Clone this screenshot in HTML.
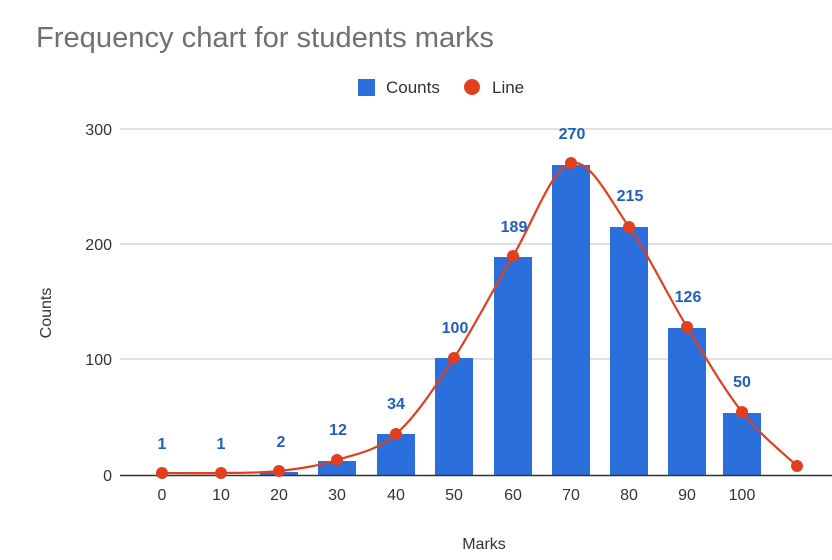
<!DOCTYPE html>
<html><head><meta charset="utf-8"><style>
html,body{margin:0;padding:0;background:#fff;}
svg{display:block;font-family:"Liberation Sans",Arial,sans-serif;}
</style></head><body>
<svg width="832" height="560" viewBox="0 0 832 560" xmlns="http://www.w3.org/2000/svg">
<text x="36" y="47" font-size="29" fill="#707070" textLength="458" lengthAdjust="spacingAndGlyphs">Frequency chart for students marks</text>
<rect x="358" y="79" width="17" height="17" fill="#2a6fdb"/>
<text x="386" y="93" font-size="17" fill="#333">Counts</text>
<circle cx="472" cy="87" r="8" fill="#e0401f"/>
<text x="492" y="93" font-size="17" fill="#333">Line</text>
<g stroke="#cfcfcf" stroke-width="1.2">
<line x1="120" y1="129" x2="832" y2="129"/>
<line x1="120" y1="244" x2="832" y2="244"/>
<line x1="120" y1="359" x2="832" y2="359"/>
</g>
<g font-size="16" fill="#333" text-anchor="end">
<text x="112" y="135">300</text>
<text x="112" y="250">200</text>
<text x="112" y="365">100</text>
<text x="112" y="481">0</text>
</g>
<text x="51" y="313" font-size="16" fill="#333" text-anchor="middle" transform="rotate(-90 51 313)">Counts</text>
<g fill="#2a6fdb">
<rect x="318" y="461" width="38" height="14"/>
<rect x="377" y="434" width="38" height="41"/>
<rect x="435" y="358" width="38" height="117"/>
<rect x="494" y="257" width="38" height="218"/>
<rect x="552" y="165" width="38" height="310"/>
<rect x="610" y="227" width="38" height="248"/>
<rect x="668" y="328" width="38" height="147"/>
<rect x="723" y="413" width="38" height="62"/>
<rect x="260" y="472" width="38" height="3"/>
</g>
<line x1="120" y1="475.5" x2="832" y2="475.5" stroke="#333" stroke-width="1.5"/>
<path d="M162,473 C172,473 201.5,473.3 221,473 C240.5,472.7 259.7,473.2 279,471 C298.3,468.8 317.5,466.2 337,460 C356.5,453.8 376.5,451 396,434 C415.5,417 434.5,387.7 454,358 C473.5,328.3 493.5,288.5 513,256 C532.5,223.5 551.7,167.8 571,163 C590.3,158.2 609.7,199.7 629,227 C648.3,254.3 668.2,296.2 687,327 C705.8,357.8 723.7,388.8 742,412 C760.3,435.2 787.8,457 797,466" fill="none" stroke="#e0401f" stroke-width="2.2"/>
<g fill="#e0401f">
<circle cx="162" cy="473" r="6"/><circle cx="221" cy="473" r="6"/><circle cx="279" cy="471" r="6"/>
<circle cx="337" cy="460" r="6"/><circle cx="396" cy="434" r="6"/><circle cx="454" cy="358" r="6"/>
<circle cx="513" cy="256" r="6"/><circle cx="571" cy="163" r="6"/><circle cx="629" cy="227" r="6"/>
<circle cx="687" cy="327" r="6"/><circle cx="742" cy="412" r="6"/><circle cx="797" cy="466" r="6"/>
</g>
<g font-size="16" font-weight="bold" fill="#1f5fc4" text-anchor="middle">
<text x="162" y="449">1</text><text x="221" y="449">1</text><text x="281" y="447">2</text>
<text x="338" y="435">12</text><text x="396" y="409">34</text><text x="455" y="333">100</text>
<text x="514" y="232">189</text><text x="572" y="139">270</text><text x="630" y="201">215</text>
<text x="688" y="302">126</text><text x="742" y="387">50</text>
</g>
<g font-size="16" fill="#333" text-anchor="middle">
<text x="162" y="500">0</text><text x="221" y="500">10</text><text x="279" y="500">20</text>
<text x="337" y="500">30</text><text x="396" y="500">40</text><text x="454" y="500">50</text>
<text x="513" y="500">60</text><text x="571" y="500">70</text><text x="629" y="500">80</text>
<text x="687" y="500">90</text><text x="742" y="500">100</text>
</g>
<text x="484" y="549" font-size="16" fill="#333" text-anchor="middle">Marks</text>
</svg>
</body></html>
